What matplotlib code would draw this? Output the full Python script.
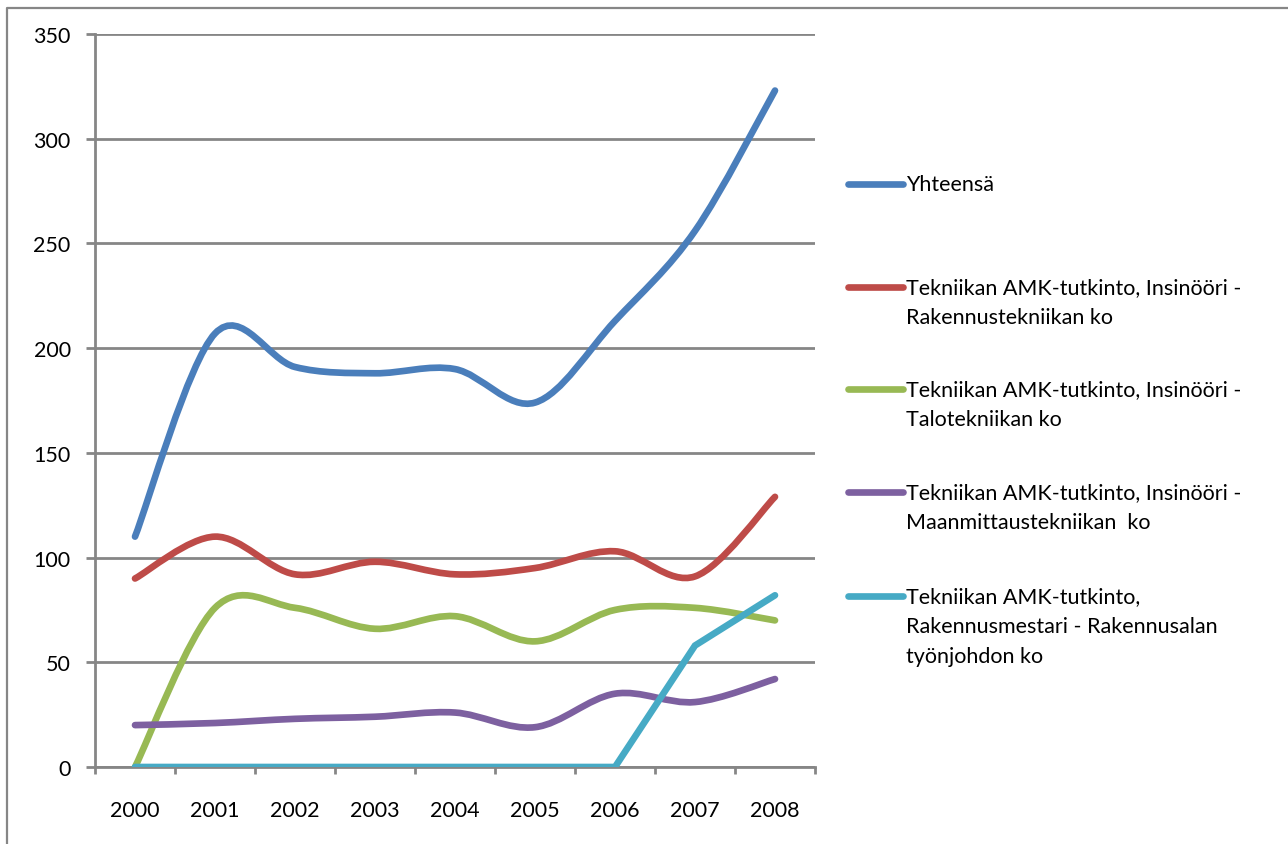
import numpy as np
import matplotlib
matplotlib.use("Agg")
import matplotlib.pyplot as plt
from matplotlib.path import Path
from matplotlib.patches import PathPatch
from matplotlib.lines import Line2D

plt.rcParams['font.family'] = ['Lato', 'DejaVu Sans']

years = ['2000', '2001', '2002', '2003', '2004', '2005', '2006', '2007', '2008']
yhteensa = [110, 207, 191, 188, 190, 174, 213, 256, 323]
rakennustekniikka = [90, 110, 92, 98, 92, 95, 103, 91, 129]
talotekniikka = [0, 76, 76, 66, 72, 60, 75, 76, 70]
maanmittaustekniikka = [20, 21, 23, 24, 26, 19, 35, 31, 42]
rakennusmestari = [0, 0, 0, 0, 0, 0, 0, 58, 82]

series_labels = [
    ['Yhteensä'],
    ['Tekniikan AMK-tutkinto, Insinööri -', 'Rakennustekniikan ko'],
    ['Tekniikan AMK-tutkinto, Insinööri -', 'Talotekniikan ko'],
    ['Tekniikan AMK-tutkinto, Insinööri -', 'Maanmittaustekniikan  ko'],
    ['Tekniikan AMK-tutkinto,', 'Rakennusmestari - Rakennusalan', 'työnjohdon ko'],
]
colors = ['#4A7EBB', '#BE4B48', '#98B954', '#7D60A0', '#46AAC5']
smoothed = [True, True, True, True, False]
GRID = '#868686'

W, H = 1288, 845
fig = plt.figure(figsize=(W / 100, H / 100), dpi=100)
ax = fig.add_axes([95 / W, 1 - 768 / H, 720 / W, 733 / H])


def smooth_path(xs, ys):
    """Cubic Bezier path through the points (Catmull-Rom style tangents)."""
    pts = np.column_stack([xs, ys]).astype(float)
    n = len(pts)
    verts = [pts[0]]
    codes = [Path.MOVETO]
    for i in range(n - 1):
        p0 = pts[i - 1] if i > 0 else pts[i]
        p1 = pts[i]
        p2 = pts[i + 1]
        p3 = pts[i + 2] if i + 2 < n else pts[i + 1]
        c1 = p1 + (p2 - p0) / 6.0
        c2 = p2 - (p3 - p1) / 6.0
        verts += [c1, c2, p2]
        codes += [Path.CURVE4] * 3
    return Path(verts, codes)


x = np.arange(len(years))
all_series = [yhteensa, rakennustekniikka, talotekniikka, maanmittaustekniikka, rakennusmestari]
for vals, col, sm in zip(all_series, colors, smoothed):
    if sm:
        patch = PathPatch(smooth_path(x, vals), facecolor='none', edgecolor=col,
                          lw=4.8, capstyle='round', joinstyle='round', zorder=3)
        ax.add_patch(patch)
    else:
        ax.plot(x, vals, color=col, lw=4.8, solid_capstyle='round',
                solid_joinstyle='miter', zorder=3)

ax.set_xlim(-0.5, len(years) - 0.5)
ax.set_ylim(0, 350)

# y axis
ax.set_yticks(np.arange(0, 351, 50))
ax.tick_params(axis='y', which='major', length=6.5, width=2, color=GRID,
               labelsize=15.5, pad=11)
ax.yaxis.grid(True, color=GRID, lw=2)
ax.set_axisbelow(True)

# category axis: tick marks at boundaries, labels centred on categories
ax.set_xticks(np.arange(-0.5, len(years), 1.0))
ax.set_xticklabels([])
ax.set_xticks(x, minor=True)
ax.set_xticklabels(years, minor=True)
ax.tick_params(axis='x', which='major', length=5, width=2, color=GRID)
ax.tick_params(axis='x', which='minor', length=0, labelsize=15.5, pad=24)

for s in ['top', 'right']:
    ax.spines[s].set_visible(False)
for s in ['left', 'bottom']:
    ax.spines[s].set_color(GRID)
    ax.spines[s].set_linewidth(2)

# legend
legend_y = [185, 288, 390, 493, 597]
for col, lines, y0 in zip(colors, series_labels, legend_y):
    fig.add_artist(Line2D([848 / W, 903 / W], [1 - y0 / H, 1 - y0 / H],
                          transform=fig.transFigure, color=col, lw=4.8,
                          solid_capstyle='round'))
    for k, t in enumerate(lines):
        fig.text(906 / W, 1 - (y0 + 30 * k) / H, t, fontsize=15.5,
                 ha='left', va='center')

# chart area border
fig.add_artist(Line2D([7 / W, 7 / W, 1.0], [0.0, 1 - 9 / H, 1 - 9 / H],
                      transform=fig.transFigure, color=GRID, lw=1.6))

fig.savefig('out.png', dpi=100, facecolor='white')
